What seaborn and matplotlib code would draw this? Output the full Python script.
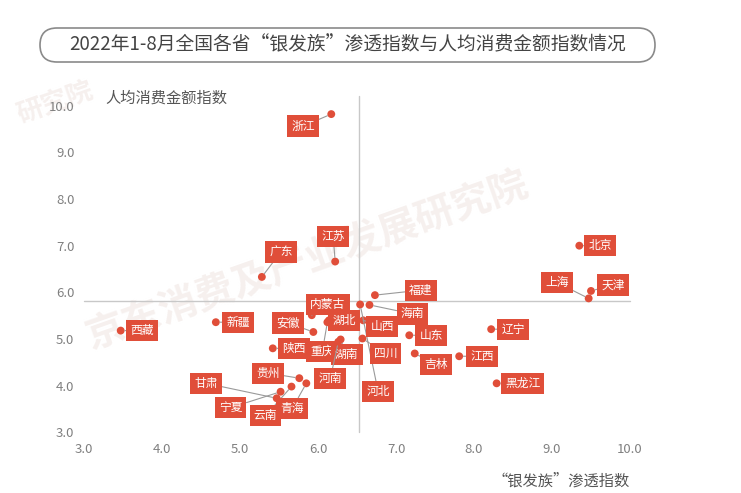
import matplotlib
matplotlib.use("Agg")
import matplotlib.pyplot as plt
from matplotlib.patches import FancyBboxPatch
from matplotlib.transforms import IdentityTransform
import pandas as pd
import seaborn as sns

# data
provinces = ["浙江", "江苏", "广东", "北京", "上海", "天津", "福建", "河北", "海南", "山西",
             "四川", "内蒙古", "安徽", "湖北", "重庆", "湖南", "河南", "陕西", "新疆", "西藏",
             "山东", "吉林", "江西", "辽宁", "黑龙江", "贵州", "甘肃", "宁夏", "云南", "青海"]
penetration = [6.17, 6.22, 5.28, 9.35, 9.47, 9.50, 6.73, 6.54, 6.66, 6.58,
               6.57, 5.92, 5.94, 6.14, 6.12, 6.29, 6.26, 5.42, 4.69, 3.47,
               7.17, 7.24, 7.81, 8.22, 8.29, 5.76, 5.47, 5.52, 5.66, 5.85]
spending = [9.82, 6.66, 6.33, 7.00, 5.87, 6.03, 5.94, 5.74, 5.73, 5.40,
            5.01, 5.51, 5.15, 5.40, 5.36, 4.99, 4.94, 4.80, 5.36, 5.18,
            5.08, 4.69, 4.63, 5.21, 4.05, 4.16, 3.73, 3.87, 3.98, 4.05]
avg_penetration = 6.52
avg_spending = 5.82
ticks = [3.0, 4.0, 5.0, 6.0, 7.0, 8.0, 9.0, 10.0]

# label offsets in pixels (dx, dy) from each point
label_offsets = {
    "浙江": (-28, -12), "江苏": (-2, 25), "广东": (19, 25), "北京": (21, 0),
    "上海": (-32, 16), "天津": (22, 6), "福建": (46, 5), "河北": (18, -87),
    "海南": (43, -9), "山西": (19, -6), "四川": (23, -15), "内蒙古": (16, 11),
    "安徽": (-25, 9), "湖北": (15, 0), "重庆": (-5, -29), "湖南": (6, -15),
    "河南": (-8, -37), "陕西": (21, 0), "新疆": (22, 0), "西藏": (21, 0),
    "山东": (22, 0), "吉林": (21, -11), "江西": (23, 0), "辽宁": (22, 0),
    "黑龙江": (26, 0), "贵州": (-31, 5), "甘肃": (-71, 15), "宁夏": (-50, -16),
    "云南": (-26, -29), "青海": (-14, -25),
}

df = pd.DataFrame({"province": provinces, "x": penetration, "y": spending})

sns.set_style("white")
plt.rcParams["font.family"] = ["Noto Sans CJK SC", "DejaVu Sans"]

red = "#E04E39"
grey_line = "#c8c8c8"

fig = plt.figure(figsize=(7.41, 4.93), dpi=100)
ax = fig.add_axes([0.1134, 0.1231, 0.7368, 0.6625])

# faint watermark behind everything
fig.text(0.414, 0.472, "京东消费及产业发展研究院", fontsize=28, fontweight="bold",
         color="#f6f0ee", rotation=19.5, ha="center", va="center", zorder=-1)
fig.text(0.075, 0.79, "研究院", fontsize=19, fontweight="bold",
         color="#f6f0ee", rotation=19.5, ha="center", va="center", zorder=-1)

# average lines
ax.plot([3, 10], [avg_spending, avg_spending], color=grey_line, lw=1, clip_on=False, zorder=1)
ax.plot([avg_penetration, avg_penetration], [3, 10.2], color=grey_line, lw=1, clip_on=False, zorder=1)

sns.scatterplot(data=df, x="x", y="y", ax=ax, color=red, s=32, edgecolor="none",
                zorder=3, clip_on=False, legend=False)

for name, px, py in zip(provinces, penetration, spending):
    dx, dy = label_offsets[name]
    ax.annotate(name, xy=(px, py), xytext=(dx, dy), textcoords="offset pixels",
                ha="center", va="center", fontsize=8.5, color="white",
                bbox=dict(boxstyle="square,pad=0.35", fc=red, ec="none"),
                arrowprops=dict(arrowstyle="-", color="#9a9a9a", lw=0.8,
                                shrinkA=0, shrinkB=3),
                zorder=4)

ax.set_xlim(3, 10)
ax.set_ylim(3, 10)
ax.set_xticks(ticks)
ax.set_yticks(ticks)
ax.set_xticklabels([f"{t:.1f}" for t in ticks])
ax.set_yticklabels([f"{t:.1f}" for t in ticks])
ax.tick_params(length=0, labelsize=9.5, labelcolor="#808080")
ax.tick_params(axis="x", pad=8)
ax.tick_params(axis="y", pad=7)
ax.set_xlabel("")
ax.set_ylabel("")
sns.despine(ax=ax, left=True, bottom=True)
ax.patch.set_alpha(0)

fig.text(105 / 741, 1 - 98 / 493, "人均消费金额指数", fontsize=11, color="#555555",
         ha="left", va="center")
fig.text(630 / 741, 1 - 481 / 493, "“银发族”渗透指数", fontsize=11, color="#555555",
         ha="right", va="center")

# title in rounded frame
frame = FancyBboxPatch((40, 493 - 62), 615, 34,
                       boxstyle="round,pad=0,rounding_size=17",
                       fc="white", ec="#8a8a8a", lw=1.2, transform=IdentityTransform())
fig.add_artist(frame)
fig.text(348 / 741, 1 - 45 / 493, "2022年1-8月全国各省“银发族”渗透指数与人均消费金额指数情况",
         fontsize=13.5, color="#444444", ha="center", va="center")

fig.savefig("out.png", dpi=100)
